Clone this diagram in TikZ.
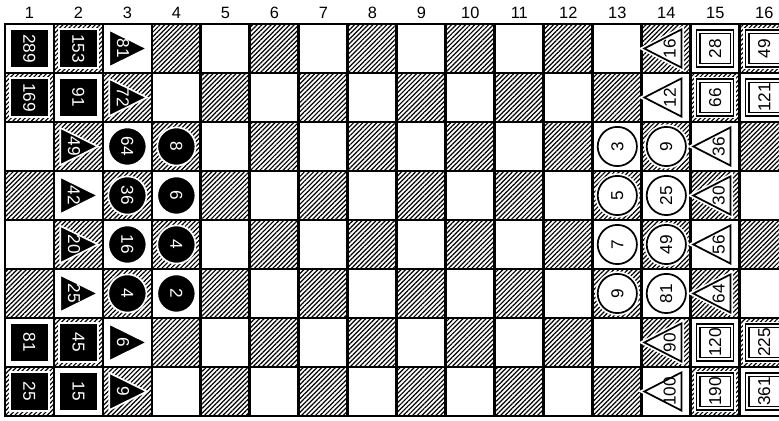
\documentclass[tikz,border=0pt]{standalone}
\usepackage{fontspec}
\setmainfont{Liberation Sans}
\usetikzlibrary{patterns.meta}

\begin{document}
\begin{tikzpicture}[
font=\fontsize{10}{12}\selectfont,
hatch/.style={pattern={Lines[angle=45, distance=1.9pt, line width=0.7pt]}},
boardline/.style={line width=1.6pt},
colnum/.style={font=\fontsize{9.5}{11}\selectfont},
blackpiece/.style={rotate=-90, inner sep=0pt, fill=black, draw=white, line width=1pt, text=white},
whitepiece/.style={rotate=90, inner sep=0pt, fill=white, draw=black, line width=1pt, preaction={draw=white, line width=3pt}},
blacksq/.style={blackpiece, rectangle, minimum size=0.8cm},
blackcirc/.style={blackpiece, circle, minimum size=0.78cm},
blacktri/.style={fill=black, draw=white, line width=1pt, line join=miter},
blacknum/.style={rotate=-90, inner sep=0pt, text=white},
whitesq/.style={whitepiece, rectangle, minimum size=0.69cm, double, double distance=1.2pt, line width=0.7pt, preaction={draw=white, line width=4.6pt}},
whitecirc/.style={whitepiece, circle, minimum size=0.8cm},
whitetri/.style={fill=white, draw=black, line width=1pt, preaction={draw=white, line width=3pt}},
whitenum/.style={rotate=90, inner sep=0pt}
]
\useasboundingbox (-0.1,-0.1) rectangle (15.8,8.49);
\clip (-0.1,-0.1) rectangle (15.8,8.49);

% --- Board ---
\foreach \cx in {1,...,16}
  \foreach \ry in {1,...,8} {
    \ifodd\numexpr\cx+\ry\relax \fill[hatch] (\cx-1,8-\ry) rectangle ++(1,1); \fi
  }
\draw[boardline] (0,0) grid (16,8);
\draw[boardline] (0,0) rectangle (16,8);

% --- Column numbers ---
\foreach \cx in {1,...,16}
  \node[colnum] (col\cx) at (\cx-0.5,8.235) {\cx};

% --- Black side ---
\foreach \cx/\ry/\val in {1/1/289, 2/1/153, 1/2/169, 2/2/91, 1/7/81, 2/7/45, 1/8/25, 2/8/15}
  \node[blacksq] (bsq-\cx-\ry) at (\cx-0.5,8.5-\ry) {\val};
\foreach \cx/\ry/\val in {3/1/81, 3/2/72, 2/3/49, 2/4/42, 2/5/20, 2/6/25, 3/7/6, 3/8/9} {
  \filldraw[blacktri] (\cx-0.87,8.12-\ry) -- (\cx-0.87,8.88-\ry) -- (\cx-0.1,8.5-\ry) -- cycle;
  \node[blacknum] (btri-\cx-\ry) at (\cx-0.59,8.5-\ry) {\val};
}
\foreach \cx/\ry/\val in {3/3/64, 4/3/8, 3/4/36, 4/4/6, 3/5/16, 4/5/4, 3/6/4, 4/6/2}
  \node[blackcirc] (bcirc-\cx-\ry) at (\cx-0.5,8.5-\ry) {\val};

% --- White side ---
\foreach \cx/\ry/\val in {13/3/3, 14/3/9, 13/4/5, 14/4/25, 13/5/7, 14/5/49, 13/6/9, 14/6/81}
  \node[whitecirc] (wcirc-\cx-\ry) at (\cx-0.5,8.5-\ry) {\val};
\foreach \cx/\ry/\val in {14/1/16, 14/2/12, 15/3/36, 15/4/30, 15/5/56, 15/6/64, 14/7/90, 14/8/100} {
  \filldraw[whitetri] (\cx-0.19,8.11-\ry) -- (\cx-0.19,8.89-\ry) -- (\cx-0.95,8.5-\ry) -- cycle;
  \node[whitenum] (wtri-\cx-\ry) at (\cx-0.43,8.5-\ry) {\val};
}
\foreach \cx/\ry/\val in {15/1/28, 16/1/49, 15/2/66, 16/2/121, 15/7/120, 16/7/225, 15/8/190, 16/8/361}
  \node[whitesq] (wsq-\cx-\ry) at (\cx-0.5,8.5-\ry) {\val};

\end{tikzpicture}
\end{document}
